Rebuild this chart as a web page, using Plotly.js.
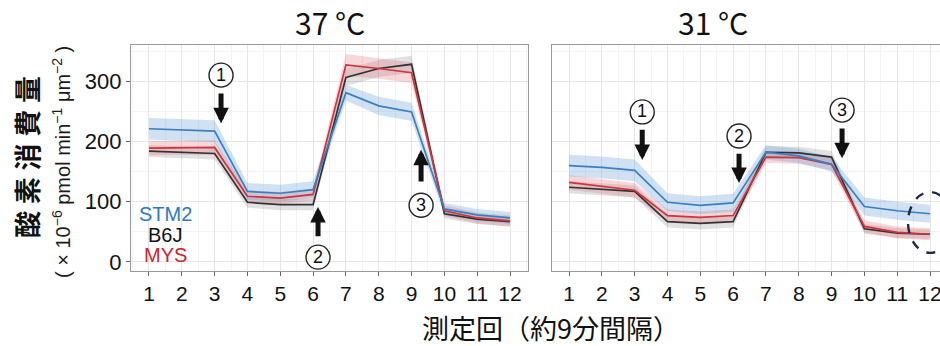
<!DOCTYPE html>
<html><head><meta charset="utf-8">
<script src="https://cdn.plot.ly/plotly-3.0.1.min.js"></script>
<style>html,body{margin:0;padding:0;overflow:hidden;background:#fff;width:940px;height:346px}</style>
</head><body><div id="chart" style="width:950px;height:346px"></div>
<script>
const rounds = [1,2,3,4,5,6,7,8,9,10,11,12];
const tickLabels = ['1','2','3','4','5','6','7','8','9','10','11','12'];
const seriesNames = ['STM2','B6J','MYS'];
// 37 °C
const stm2_37 = [221,219,217,117,114,120,281,259,249,88,78,73];
const b6j_37  = [184,182,180,99,95,95,306,321,328,80,71,67];
const mys_37  = [189,189,190,109,106,112,327,321,314,85,73,68];
const stm2_37_sd = [18,18,18,14,14,14,13,15,15,10,10,10];
const b6j_37_sd  = [10,10,10,9,9,9,14,14,14,8,8,8];
const mys_37_sd  = [12,12,12,10,10,10,18,17,17,9,9,9];
// 31 °C
const stm2_31 = [160,157,152,99,94,98,182,176,162,92,85,80];
const b6j_31  = [124,121,117,67,64,67,182,181,174,55,48,46];
const mys_31  = [132,126,119,77,74,77,174,173,162,59,49,46];
const stm2_31_sd = [18,18,18,15,15,15,12,12,12,15,15,15];
const b6j_31_sd  = [10,10,10,10,10,10,10,10,10,8,8,8];
const mys_31_sd  = [12,12,12,10,10,10,10,10,10,10,10,10];

const lineColors = {STM2:'#3a7fc0', B6J:'#333333', MYS:'#d1323b'};
const bandColors = {STM2:'rgba(110,165,215,0.33)', B6J:'rgba(90,90,90,0.18)', MYS:'rgba(225,110,120,0.28)'};
const textColors = {STM2:'#2c7bbf', B6J:'#111111', MYS:'#c9262f'};

const traces = [];
function addSeries(name, vals, sd, xa, ya){
  const up = vals.map((v,i)=>v+sd[i]);
  const lo = vals.map((v,i)=>v-sd[i]);
  traces.push({x:rounds, y:lo, xaxis:xa, yaxis:ya, mode:'lines', line:{width:0,color:bandColors[name]}, hoverinfo:'skip', showlegend:false});
  traces.push({x:rounds, y:up, xaxis:xa, yaxis:ya, mode:'lines', line:{width:0,color:bandColors[name]}, fill:'tonexty', fillcolor:bandColors[name], hoverinfo:'skip', showlegend:false});
}
function addLine(name, vals, xa, ya){
  traces.push({x:rounds, y:vals, xaxis:xa, yaxis:ya, mode:'lines', name:name, line:{width:1.7,color:lineColors[name]}, showlegend:false});
}
addSeries('B6J', b6j_37, b6j_37_sd, 'x','y');
addSeries('MYS', mys_37, mys_37_sd, 'x','y');
addSeries('STM2', stm2_37, stm2_37_sd, 'x','y');
addLine('B6J', b6j_37, 'x','y');
addLine('MYS', mys_37, 'x','y');
addLine('STM2', stm2_37, 'x','y');
addSeries('B6J', b6j_31, b6j_31_sd, 'x2','y2');
addSeries('MYS', mys_31, mys_31_sd, 'x2','y2');
addSeries('STM2', stm2_31, stm2_31_sd, 'x2','y2');
addLine('B6J', b6j_31, 'x2','y2');
addLine('MYS', mys_31, 'x2','y2');
addLine('STM2', stm2_31, 'x2','y2');

const sans = 'Liberation Sans, Arial, sans-serif';
const jp = 'Noto Sans CJK JP, sans-serif';
const xBase = {tickmode:'array', tickvals:rounds, ticktext:tickLabels, tickfont:{family:sans, size:21, color:'#111'},
  showgrid:true, gridcolor:'#e6e6e6', gridwidth:1, zeroline:false,
  minor:{dtick:0.5, tick0:0.5, showgrid:true, gridcolor:'#f3f3f3', gridwidth:1},
  showline:true, mirror:true, linecolor:'#9a9a9a', linewidth:1.2,
  ticks:'outside', ticklen:4, tickcolor:'#666', tickwidth:1};
const yBase = {range:[-15,360], tickvals:[0,100,200,300], showgrid:true, gridcolor:'#e6e6e6', zeroline:false,
  minor:{dtick:50, tick0:0, showgrid:true, gridcolor:'#f3f3f3'},
  showline:true, mirror:true, linecolor:'#9a9a9a', linewidth:1.2,
  ticks:'outside', ticklen:4, tickcolor:'#666', tickfont:{family:sans, size:22, color:'#111'}};

const annotations = [];
const shapes = [];
// panel titles
annotations.push({xref:'paper', yref:'paper', x:(0.1379+0.5558)/2, y:1, yshift:23, yanchor:'middle', text:'37 °C', showarrow:false, font:{family:jp, size:30, color:'#111'}});
annotations.push({xref:'paper', yref:'paper', x:(0.5811+0.9979)/2, y:1, yshift:23, yanchor:'middle', text:'31 °C', showarrow:false, font:{family:jp, size:30, color:'#111'}});
// y title
annotations.push({xref:'paper', yref:'paper', x:26/950, y:(346-157-75)/226, yanchor:'middle', xanchor:'center', text:'<b>酸\u2005素\u2005消\u2005費\u2005量</b>', textangle:-90, showarrow:false, font:{family:jp, size:27, color:'#111'}});
annotations.push({xref:'paper', yref:'paper', x:61/950, y:(346-162-75)/226, yanchor:'middle', xanchor:'center', text:'( × 10<sup>−6</sup> pmol min<sup>−1</sup> μm<sup>−2</sup> )', textangle:-90, showarrow:false, font:{family:sans, size:20, color:'#1a1a1a'}});
// x title
annotations.push({xref:'paper', yref:'paper', x:551/950, y:0, yshift:-56, yanchor:'middle', text:'測定回（約9分間隔）', showarrow:false, font:{family:jp, size:27, color:'#111'}});
// legend text
const legY = [80, 45, 12];
seriesNames.forEach((n,i)=>{
  annotations.push({xref:'x', yref:'y', x:1.49, y:legY[i], text:n, showarrow:false, font:{family:sans, size:20, color:textColors[n]}});
});
// markers: circled numbers and arrows
const marks = [
  {xa:'x', ya:'y', lab:'1', lx:3.195, ly:310, tail:282, tip:230},
  {xa:'x', ya:'y', lab:'2', lx:6.15, ly:8, tail:40, tip:91},
  {xa:'x', ya:'y', lab:'3', lx:9.29, ly:94, tail:131, tip:186},
  {xa:'x2', ya:'y2', lab:'1', lx:3.23, ly:249, tail:222, tip:169},
  {xa:'x2', ya:'y2', lab:'2', lx:6.18, ly:209, tail:182, tip:131},
  {xa:'x2', ya:'y2', lab:'3', lx:9.32, ly:252, tail:224, tip:172}
];
marks.forEach(m=>{
  shapes.push({type:'circle', xref:m.xa, yref:m.ya, xsizemode:'pixel', ysizemode:'pixel', xanchor:m.lx, yanchor:m.ly,
    x0:-12, x1:12, y0:-12, y1:12, line:{color:'#222', width:1.4}, fillcolor:'rgba(255,255,255,0.6)'});
  annotations.push({xref:m.xa, yref:m.ya, x:m.lx, y:m.ly, yshift:0.5, text:m.lab, showarrow:false, font:{family:sans, size:18, color:'#111'}});
  annotations.push({xref:m.xa, yref:m.ya, x:m.lx, y:m.tip, axref:m.xa, ayref:m.ya, ax:m.lx, ay:m.tail, text:'', showarrow:true, arrowhead:2, arrowsize:0.62, arrowwidth:5, arrowcolor:'#111', standoff:0, startstandoff:0});
});
shapes.push({type:'circle', xref:'x2', yref:'y2', x0:11.33, x1:12.67, y0:15, y1:116, line:{color:'#1d2a44', width:2.4, dash:'dash'}});

const layout = {
  width:950, height:346, margin:{l:0, r:0, t:45, b:75},
  paper_bgcolor:'#fff', plot_bgcolor:'#fff', showlegend:false,
  xaxis:Object.assign({}, xBase, {domain:[0.1379,0.5558], range:[0.452,12.548], anchor:'y'}),
  yaxis:Object.assign({}, yBase, {anchor:'x'}),
  xaxis2:Object.assign({}, xBase, {domain:[0.5811,0.9979], range:[0.482,12.548], anchor:'y2'}),
  yaxis2:Object.assign({}, yBase, {anchor:'x2', matches:'y', showticklabels:false, ticks:''}),
  annotations:annotations,
  shapes:shapes
};
Plotly.newPlot('chart', traces, layout, {displayModeBar:false, staticPlot:true});
</script></body></html>
